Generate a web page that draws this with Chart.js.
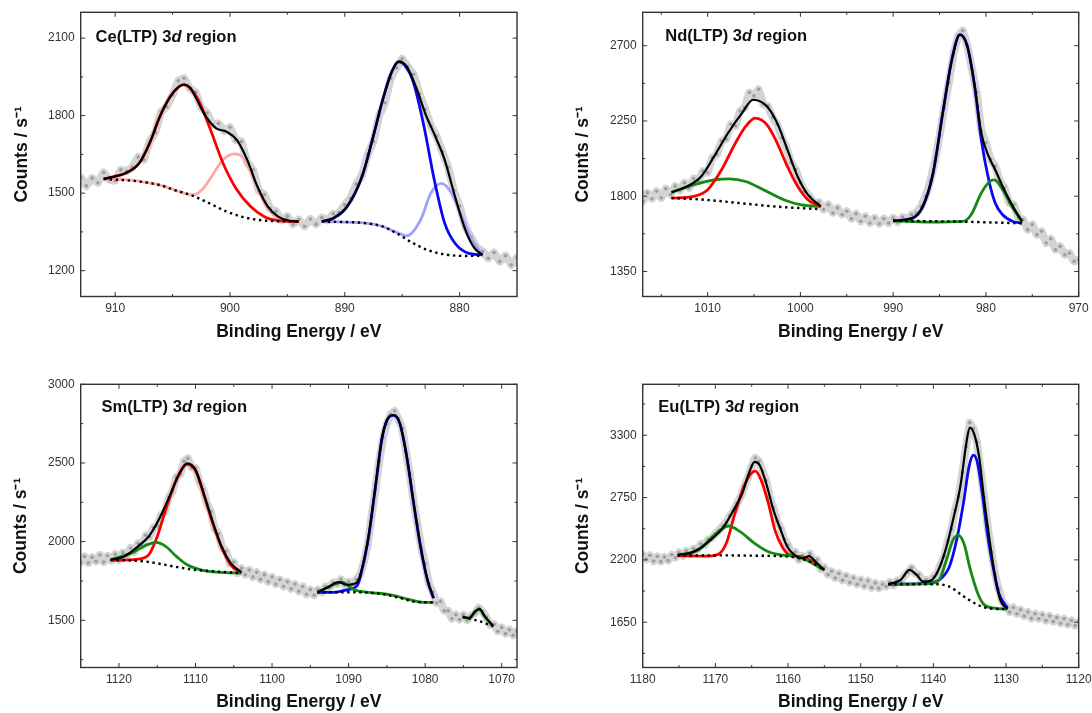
<!DOCTYPE html>
<html><head><meta charset="utf-8">
<script src="https://cdn.jsdelivr.net/npm/chart.js@4/dist/chart.umd.min.js"></script>
<style>
html,body{margin:0;padding:0;background:#fff;}
#wrap{position:relative;width:1092px;height:713px;overflow:hidden;background:#fff;}
canvas{position:absolute;display:block;}
.lbl{position:absolute;font-family:"Liberation Sans",Arial,Helvetica,sans-serif;font-weight:bold;font-size:16.5px;color:#111;white-space:nowrap;line-height:20px;}
</style></head><body>
<div id="wrap">
<canvas id="c1" width="546" height="356" style="left:0;top:0"></canvas>
<canvas id="c2" width="546" height="356" style="left:546px;top:0"></canvas>
<canvas id="c3" width="546" height="357" style="left:0;top:356px"></canvas>
<canvas id="c4" width="546" height="357" style="left:546px;top:356px"></canvas>
<div class="lbl" style="left:95.6px;top:26px">Ce(LTP) 3<i>d</i> region</div>
<div class="lbl" style="left:665.3px;top:25px">Nd(LTP) 3<i>d</i> region</div>
<div class="lbl" style="left:101.5px;top:396px">Sm(LTP) 3<i>d</i> region</div>
<div class="lbl" style="left:658.3px;top:396px">Eu(LTP) 3<i>d</i> region</div>
</div>
<script>
// ---------- tick labels ----------
const ceXTicks = [880, 890, 900, 910];
const ceYTicks = [1200, 1500, 1800, 2100];
const ndXTicks = [970, 980, 990, 1000, 1010];
const ndYTicks = [1350, 1800, 2250, 2700];
const smXTicks = [1070, 1080, 1090, 1100, 1110, 1120];
const smYTicks = [1500, 2000, 2500, 3000];
const euXTicks = [1120, 1130, 1140, 1150, 1160, 1170, 1180];
const euYTicks = [1650, 2200, 2750, 3300];

// ---------- Ce(LTP) 3d ----------
const ceRaw = [[913,1560],[912.5,1528],[912,1558],[911.5,1540],[911,1580],[910.5,1552],[910,1548],[909.5,1590],[909,1585],[908.5,1600],[908,1640],[907.5,1630],[907,1700],[906.5,1735],[906,1815],[905.5,1835],[905,1880],[904.5,1935],[904,1945],[903.5,1905],[903,1890],[902.5,1830],[902,1810],[901.5,1765],[901,1770],[900.5,1740],[900,1755],[899.5,1705],[899,1700],[898.5,1620],[898,1590],[897.5,1510],[897,1495],[896.5,1440],[896,1430],[895.5,1395],[895,1410],[894.5,1380],[894,1398],[893.5,1372],[893,1400],[892.5,1380],[892,1405],[891.5,1395],[891,1420],[890.5,1425],[890,1455],[889.5,1480],[889,1535],[888.5,1570],[888,1650],[887.5,1700],[887,1800],[886.5,1850],[886,1945],[885.5,1985],[885,2020],[884.5,1990],[884,1960],[883.5,1885],[883,1825],[882.5,1760],[882,1720],[881.5,1660],[881,1600],[880.5,1510],[880,1450],[879.5,1370],[879,1330],[878.5,1290],[878,1275],[877.5,1248],[877,1270],[876.5,1235],[876,1258],[875.5,1222],[875,1250]];
const ceTotalA = [[911,1555],[910,1565],[909.1,1577],[907.9,1616],[907,1693],[906.1,1797],[905.2,1874],[904.5,1910],[904,1920],[903.5,1910],[903,1872],[902.1,1797],[901.2,1751],[900.3,1738],[899.4,1706],[898.5,1629],[897.6,1525],[896.7,1448],[895.8,1409],[894.9,1394],[894,1390]];
const ceRedA = [[911,1555],[910,1565],[909.1,1577],[907.9,1616],[907,1693],[906.1,1797],[905.2,1874],[904.5,1910],[904,1920],[903.5,1908],[902.75,1861],[901.8,1758],[900.6,1616],[899.4,1513],[898.2,1448],[897,1409],[895.8,1394],[894,1390]];
const cePinkA = [[911,1555],[909,1552],[907,1540],[906,1530],[905,1515],[904,1500],[903.2,1493],[902.5,1510],[901.8,1551],[900.6,1629],[899.6,1652],[898.8,1635],[897.9,1551],[897,1461],[896.2,1415],[895,1395],[894,1390]];
const ceBgA = [[911,1555],[907.9,1545],[906,1530],[904.9,1513],[903.2,1489],[901.8,1461],[900.3,1429],[898.8,1407],[897,1394],[894,1390]];
const ceTotalB = [[892,1390],[891,1403],[889.8,1448],[888.5,1564],[887.6,1706],[886.7,1861],[885.9,1971],[885.3,2010],[884.6,1990],[883.7,1900],[883,1810],[882.05,1713],[881.3,1629],[880.4,1487],[879.5,1358],[878.7,1287],[878,1261]];
const ceBlueB = [[892,1390],[891,1403],[889.8,1448],[888.5,1564],[887.6,1706],[886.7,1861],[885.9,1971],[885.3,2008],[884.6,1985],[884,1926],[883.1,1758],[882.2,1551],[881.3,1384],[880.4,1306],[879.2,1267],[878,1261]];
const ceLavB = [[892,1390],[888.2,1384],[886.7,1371],[885.5,1348],[884.6,1335],[883.4,1396],[882.5,1500],[881.6,1538],[880.7,1500],[879.8,1409],[878.9,1319],[878,1261]];
const ceBgB = [[892,1390],[888.2,1384],[886.7,1371],[885.5,1345],[884.3,1313],[882.8,1280],[881.3,1263],[879.5,1257],[878,1258]];

// ---------- Nd(LTP) 3d ----------
const ndRaw = [[1017,1770],[1016.5,1820],[1016,1785],[1015.5,1830],[1015,1790],[1014.5,1845],[1014,1810],[1013.5,1860],[1013,1835],[1012.5,1880],[1012,1850],[1011.5,1905],[1011,1890],[1010.5,1950],[1010,1940],[1009.5,2030],[1009,2050],[1008.5,2130],[1008,2140],[1007.5,2230],[1007,2220],[1006.5,2310],[1006,2330],[1005.5,2420],[1005,2400],[1004.5,2440],[1004,2350],[1003.5,2340],[1003,2270],[1002.5,2230],[1002,2150],[1001.5,2090],[1001,2000],[1000.5,1960],[1000,1880],[999.5,1830],[999,1800],[998.5,1750],[998,1765],[997.5,1720],[997,1750],[996.5,1700],[996,1730],[995.5,1690],[995,1710],[994.5,1665],[994,1695],[993.5,1650],[993,1680],[992.5,1640],[992,1670],[991.5,1635],[991,1665],[990.5,1640],[990,1670],[989.5,1645],[989,1675],[988.5,1660],[988,1690],[987.5,1700],[987,1740],[986.5,1800],[986,1890],[985.5,2010],[985,2160],[984.5,2330],[984,2480],[983.5,2650],[983,2760],[982.5,2790],[982,2700],[981.5,2560],[981,2420],[980.5,2190],[980,2120],[979.5,2020],[979,1980],[978.5,1890],[978,1850],[977.5,1760],[977,1750],[976.5,1670],[976,1660],[975.5,1600],[975,1630],[974.5,1570],[974,1590],[973.5,1520],[973,1545],[972.5,1480],[972,1500],[971.5,1450],[971,1460],[970.5,1410],[970,1420]];
const ndTotalA = [[1013.9,1823],[1012.2,1859],[1010.7,1918],[1009.3,2038],[1007.8,2178],[1006.3,2297],[1005.1,2377],[1003.6,2337],[1002.5,2237],[1001.4,2078],[1000.3,1918],[999.2,1809],[997.8,1739]];
const ndRedA = [[1013.9,1789],[1011.5,1799],[1010,1839],[1008.5,1958],[1007,2118],[1005.9,2217],[1004.9,2267],[1003.6,2227],[1002.5,2118],[1001.4,1978],[1000.3,1859],[999.2,1779],[997.8,1739]];
const ndGreenA = [[1013.9,1823],[1011.5,1868],[1009.3,1898],[1007.6,1904],[1005.9,1888],[1004,1839],[1001.8,1779],[999.9,1748],[997.8,1739]];
const ndBgA = [[1013.9,1789],[1010.4,1779],[1006.6,1759],[1002.9,1739],[997.8,1722]];
const ndTotalB = [[990,1653],[987.9,1669],[986.8,1739],[985.7,1938],[984.6,2317],[983.6,2636],[982.8,2766],[982,2696],[981.2,2457],[980.5,2178],[979.7,2038],[979,1958],[978.2,1858],[977.1,1739],[976.1,1649]];
const ndBlueB = [[990,1653],[987.9,1669],[986.8,1739],[985.7,1938],[984.6,2317],[983.6,2636],[982.8,2766],[982,2696],[981.2,2450],[980.5,2138],[979.7,1898],[979,1759],[978.2,1689],[977.1,1649],[976.1,1639]];
const ndGreenB = [[990,1653],[986.1,1645],[982.5,1649],[981.6,1689],[980.5,1819],[979.6,1888],[979.1,1898],[978.2,1839],[977.1,1729],[976.1,1649]];
const ndBgB = [[990,1653],[983,1648],[976.1,1638]];

// ---------- Sm(LTP) 3d ----------
const smRaw = [[1125,1870],[1124.5,1905],[1124,1865],[1123.5,1900],[1123,1875],[1122.5,1915],[1122,1870],[1121.5,1910],[1121,1880],[1120.5,1920],[1120,1885],[1119.5,1930],[1119,1910],[1118.5,1960],[1118,1935],[1117.5,1990],[1117,1975],[1116.5,2040],[1116,2030],[1115.5,2090],[1115,2100],[1114.5,2170],[1114,2190],[1113.5,2280],[1113,2320],[1112.5,2410],[1112,2430],[1111.5,2510],[1111,2530],[1110.5,2470],[1110,2470],[1109.5,2380],[1109,2330],[1108.5,2240],[1108,2190],[1107.5,2080],[1107,2050],[1106.5,1960],[1106,1940],[1105.5,1860],[1105,1870],[1104.5,1800],[1104,1830],[1103.5,1790],[1103,1820],[1102.5,1775],[1102,1805],[1101.5,1760],[1101,1790],[1100.5,1745],[1100,1775],[1099.5,1730],[1099,1760],[1098.5,1715],[1098,1745],[1097.5,1700],[1097,1730],[1096.5,1685],[1096,1715],[1095.5,1665],[1095,1695],[1094.5,1660],[1094,1695],[1093.5,1680],[1093,1715],[1092.5,1705],[1092,1740],[1091.5,1730],[1091,1760],[1090.5,1725],[1090,1745],[1089.5,1730],[1089,1760],[1088.5,1790],[1088,1870],[1087.5,1980],[1087,2160],[1086.5,2330],[1086,2510],[1085.5,2660],[1085,2750],[1084.5,2810],[1084,2830],[1083.5,2780],[1083,2720],[1082.5,2570],[1082,2430],[1081.5,2250],[1081,2110],[1080.5,1960],[1080,1860],[1079.5,1730],[1079,1680],[1078.5,1610],[1078,1620],[1077.5,1560],[1077,1560],[1076.5,1510],[1076,1535],[1075.5,1505],[1075,1535],[1074.5,1500],[1074,1530],[1073.5,1545],[1073,1580],[1072.5,1555],[1072,1520],[1071.5,1470],[1071,1475],[1070.5,1430],[1070,1455],[1069.5,1415],[1069,1440],[1068.5,1405],[1068,1430]];
const smTotalA = [[1121.1,1885],[1119.3,1906],[1117.5,1970],[1116.1,2033],[1114.8,2139],[1113.4,2287],[1112.3,2414],[1111.1,2498],[1110,2456],[1108.8,2287],[1107.7,2118],[1106.6,1970],[1105.4,1864],[1104,1804]];
const smRedA = [[1121.1,1881],[1117.5,1889],[1116.1,1917],[1115,2033],[1113.9,2202],[1112.5,2393],[1111.1,2492],[1110,2452],[1108.8,2280],[1107.7,2110],[1106.6,1965],[1105.4,1852],[1104,1800]];
const smGreenA = [[1121.1,1885],[1118.4,1927],[1116.6,1974],[1115.2,1995],[1113.9,1970],[1112.5,1906],[1111.1,1853],[1109.3,1821],[1106.6,1804],[1104,1800]];
const smBgA = [[1121.1,1885],[1116.6,1874],[1112.9,1843],[1110.2,1821],[1107.5,1811],[1104,1800]];
const smTotalB = [[1094.1,1678],[1092.9,1705],[1091.3,1743],[1090.2,1726],[1089,1737],[1088.4,1800],[1087.4,2033],[1086.5,2350],[1085.6,2668],[1084.7,2795],[1084.1,2805],[1083.3,2752],[1082.4,2541],[1081.5,2245],[1080.6,1970],[1079.7,1758],[1078.9,1642]];
const smBlueB = [[1094.1,1678],[1092,1678],[1090.2,1694],[1088.8,1726],[1088.4,1790],[1087.4,2025],[1086.5,2345],[1085.6,2665],[1084.7,2793],[1084.1,2803],[1083.3,2750],[1082.4,2538],[1081.5,2242],[1080.6,1967],[1079.7,1755],[1078.9,1640]];
const smGreenB = [[1094.1,1678],[1092.4,1716],[1090.9,1743],[1089.3,1694],[1087.4,1678],[1084.7,1663],[1082,1631],[1080.2,1614],[1078.9,1614]];
const smBgB = [[1094.1,1678],[1090.2,1678],[1086.5,1673],[1083.3,1642],[1081.1,1616],[1078.9,1614]];
const smTotalC = [[1075.1,1521],[1074.2,1515],[1073.5,1557],[1072.9,1572],[1072.2,1525],[1071.1,1462]];
const smGreenC = [[1075.1,1521],[1074.2,1513],[1073.5,1552],[1072.9,1568],[1072.2,1522],[1071.1,1462]];
const smBgC = [[1075.1,1521],[1072.9,1494],[1071.1,1462]];

// ---------- Eu(LTP) 3d ----------
const euRaw = [[1180,2250],[1179.5,2205],[1179,2240],[1178.5,2190],[1178,2230],[1177.5,2185],[1177,2225],[1176.5,2195],[1176,2245],[1175.5,2220],[1175,2265],[1174.5,2235],[1174,2280],[1173.5,2250],[1173,2300],[1172.5,2290],[1172,2340],[1171.5,2330],[1171,2380],[1170.5,2390],[1170,2430],[1169.5,2460],[1169,2500],[1168.5,2530],[1168,2590],[1167.5,2630],[1167,2700],[1166.5,2760],[1166,2850],[1165.5,2930],[1165,3030],[1164.5,3100],[1164,3070],[1163.5,2980],[1163,2900],[1162.5,2750],[1162,2660],[1161.5,2540],[1161,2480],[1160.5,2380],[1160,2330],[1159.5,2250],[1159,2270],[1158.5,2200],[1158,2235],[1157.5,2215],[1157,2255],[1156.5,2185],[1156,2200],[1155.5,2120],[1155,2135],[1154.5,2070],[1154,2100],[1153.5,2040],[1153,2080],[1152.5,2020],[1152,2060],[1151.5,2000],[1151,2040],[1150.5,1985],[1150,2025],[1149.5,1970],[1149,2015],[1148.5,1955],[1148,1995],[1147.5,1950],[1147,1985],[1146.5,1965],[1146,2005],[1145.5,1975],[1145,2020],[1144.5,2010],[1144,2060],[1143.5,2090],[1143,2130],[1142.5,2080],[1142,2070],[1141.5,2010],[1141,2025],[1140.5,2010],[1140,2050],[1139.5,2080],[1139,2160],[1138.5,2230],[1138,2370],[1137.5,2470],[1137,2640],[1136.5,2760],[1136,2970],[1135.5,3200],[1135,3410],[1134.5,3360],[1134,3240],[1133.5,2990],[1133,2750],[1132.5,2480],[1132,2270],[1131.5,2070],[1131,1940],[1130.5,1830],[1130,1790],[1129.5,1740],[1129,1780],[1128.5,1725],[1128,1760],[1127.5,1705],[1127,1740],[1126.5,1685],[1126,1725],[1125.5,1680],[1125,1715],[1124.5,1665],[1124,1705],[1123.5,1655],[1123,1690],[1122.5,1640],[1122,1680],[1121.5,1630],[1121,1665],[1120.5,1620],[1120,1655]];
const euTotalA = [[1175.2,2243],[1173.3,2264],[1171.8,2316],[1170.4,2390],[1169,2478],[1167.5,2639],[1166.3,2786],[1165.4,2962],[1164.6,3065],[1163.9,3036],[1163,2874],[1162,2639],[1161,2463],[1160.1,2316],[1159.1,2243],[1157.9,2214],[1157.1,2234],[1156.2,2184],[1155,2111]];
const euRedA = [[1175.2,2237],[1170.9,2234],[1169.4,2258],[1168.5,2346],[1167.3,2610],[1166.1,2845],[1165.1,2962],[1164.5,2983],[1163.7,2904],[1162.7,2698],[1161.8,2463],[1160.8,2316],[1159.8,2243],[1158.4,2230],[1157,2200],[1155,2111]];
const euGreenA = [[1175.2,2243],[1172.3,2287],[1170.4,2405],[1168.2,2499],[1166.6,2449],[1164.6,2346],[1162.7,2272],[1160.8,2243],[1158.4,2228],[1157,2184],[1155,2111]];
const euBgA = [[1175.2,2237],[1169.4,2240],[1164.6,2237],[1159.8,2228],[1157,2184],[1155,2111]];
const euTotalB = [[1146.2,1985],[1144.5,2023],[1143.3,2111],[1142.3,2067],[1141.4,2008],[1140.2,2023],[1139.2,2126],[1138.2,2316],[1137.3,2551],[1136.3,2845],[1135.4,3256],[1135,3368],[1134.4,3315],[1133.7,3109],[1133,2727],[1132.2,2346],[1131.5,2052],[1130.8,1847],[1129.8,1765]];
const euBlueB = [[1146.2,1985],[1140.6,1994],[1139.2,2023],[1137.8,2140],[1136.8,2375],[1135.8,2727],[1135.1,3021],[1134.5,3124],[1133.9,3050],[1133.2,2757],[1132.5,2405],[1131.7,2111],[1131,1906],[1129.8,1773]];
const euGreenB = [[1146.2,1985],[1140.6,1990],[1139.2,2023],[1138.2,2199],[1137.3,2375],[1136.6,2419],[1135.8,2346],[1134.9,2111],[1133.9,1906],[1133,1803],[1131.5,1773],[1129.8,1765]];
const euBgB = [[1146.2,1985],[1139.7,1985],[1137.8,1964],[1135.8,1876],[1133.9,1803],[1132.5,1773],[1129.8,1765]];

// ---------- styling ----------
const FONT = '"Liberation Sans", Arial, Helvetica, sans-serif';
const RED = '#ff0000', PINK = '#ffa8a8', BLUE = '#0808f5', LAV = '#a0a0ff', GREEN = '#138a13', BLACK = '#000000';

const framePlugin = {
  id: 'frame',
  afterDatasetsDraw(chart) {
    const {ctx, chartArea: a, scales: {x, y}} = chart;
    ctx.save();
    ctx.strokeStyle = '#333';
    ctx.lineWidth = 1;
    const xs = x.ticks.map(t => t.value), ys = y.ticks.map(t => t.value);
    const xStep = Math.abs(xs[1] - xs[0]), yStep = Math.abs(ys[1] - ys[0]);
    const minorsOf = (arr, step, lo, hi) => {
      const out = [];
      const first = Math.min(...arr) - step / 2;
      for (let v = first; v <= hi; v += step) if (v > lo && v < hi) out.push(v);
      return out;
    };
    const xMin = minorsOf(xs, xStep, x.min, x.max), yMin = minorsOf(ys, yStep, y.min, y.max);
    ctx.beginPath();
    const vt = (v, len) => { const p = x.getPixelForValue(v); ctx.moveTo(p, a.bottom); ctx.lineTo(p, a.bottom - len); ctx.moveTo(p, a.top); ctx.lineTo(p, a.top + len); };
    const ht = (v, len) => { const p = y.getPixelForValue(v); ctx.moveTo(a.left, p); ctx.lineTo(a.left + len, p); ctx.moveTo(a.right, p); ctx.lineTo(a.right - len, p); };
    xs.forEach(v => vt(v, 4.5)); xMin.forEach(v => vt(v, 2.5));
    ys.forEach(v => ht(v, 4.5)); yMin.forEach(v => ht(v, 2.5));
    ctx.stroke();
    ctx.lineWidth = 1.4;
    ctx.strokeRect(a.left, a.top, a.right - a.left, a.bottom - a.top);
    ctx.restore();
  }
};

function build(p) {
  const ds = [];
  ds.push({data: p.raw, showLine: true, borderColor: '#d4d4d4', borderWidth: 8, borderJoinStyle: 'round', borderCapStyle: 'round', pointRadius: 0, tension: 0, clip: 0, order: 100});
  ds.push({data: p.raw, showLine: false, pointRadius: 1.8, pointBackgroundColor: '#9e9e9e', pointBorderWidth: 0, clip: 0, order: 99});
  p.lines.forEach((l, i) => ds.push({data: l.d, showLine: true, borderColor: l.c, borderWidth: l.c === BLACK ? 2.2 : 2.8, pointRadius: 0, cubicInterpolationMode: 'monotone', clip: 0, order: 60 - i}));
  p.bgs.forEach(b => ds.push({data: b, showLine: true, borderColor: '#000', borderWidth: 2.4, borderDash: [2.4, 3.6], pointRadius: 0, cubicInterpolationMode: 'monotone', clip: 0, order: 5}));
  new Chart(document.getElementById(p.id), {
    type: 'scatter',
    data: {datasets: ds},
    plugins: [framePlugin],
    options: {
      responsive: false, animation: false, events: [],
      layout: {padding: {top: p.padTop, right: p.padRight, left: 0, bottom: 0}},
      plugins: {legend: {display: false}, tooltip: {enabled: false}},
      scales: {
        x: {
          type: 'linear', position: 'bottom', reverse: true, min: p.xMin, max: p.xMax,
          grid: {display: false, drawTicks: false}, border: {display: false},
          afterBuildTicks: s => { s.ticks = p.xTicks.map(v => ({value: v})); },
          ticks: {padding: 4.6, color: '#333', font: {family: FONT, size: 12}, maxRotation: 0, minRotation: 0, autoSkip: false, callback: v => String(v)},
          title: {display: true, text: 'Binding Energy / eV', color: '#111', font: {family: FONT, size: 17.5, weight: 'bold'}, padding: {top: 0, bottom: p.xTitlePad}},
          afterFit: s => { s.height = p.xAxisH; s.paddingLeft = 0; s.paddingRight = 0; }
        },
        y: {
          type: 'linear', position: 'left', min: p.yMin, max: p.yMax,
          grid: {display: false, drawTicks: false}, border: {display: false},
          afterBuildTicks: s => { s.ticks = p.yTicks.map(v => ({value: v})); },
          ticks: {padding: 6, color: '#333', font: {family: FONT, size: 12}, autoSkip: false, callback: v => String(v)},
          title: {display: true, text: 'Counts / s\u207B\u00B9', color: '#111', font: {family: FONT, size: 17.5, weight: 'bold'}, padding: {top: p.yTitlePad, bottom: 0}},
          afterFit: s => { s.width = p.yAxisW; s.paddingTop = 0; s.paddingBottom = 0; }
        }
      }
    }
  });
}

build({id: 'c1', xMin: 875, xMax: 913, yMin: 1100, yMax: 2200, xTicks: ceXTicks, yTicks: ceYTicks, raw: ceRaw,
  lines: [{d: cePinkA, c: PINK}, {d: ceRedA, c: RED}, {d: ceLavB, c: LAV}, {d: ceBlueB, c: BLUE}, {d: ceTotalA, c: BLACK}, {d: ceTotalB, c: BLACK}],
  bgs: [ceBgA, ceBgB], yAxisW: 80.7, xAxisH: 59.5, padTop: 12.3, padRight: 29, yTitlePad: 12.1, xTitlePad: 13.8});
build({id: 'c2', xMin: 970, xMax: 1017, yMin: 1200, yMax: 2900, xTicks: ndXTicks, yTicks: ndYTicks, raw: ndRaw,
  lines: [{d: ndGreenA, c: GREEN}, {d: ndRedA, c: RED}, {d: ndBlueB, c: BLUE}, {d: ndGreenB, c: GREEN}, {d: ndTotalA, c: BLACK}, {d: ndTotalB, c: BLACK}],
  bgs: [ndBgA, ndBgB], yAxisW: 96.7, xAxisH: 59.5, padTop: 12.3, padRight: 13.3, yTitlePad: 27.1, xTitlePad: 13.8});
build({id: 'c3', xMin: 1068, xMax: 1125, yMin: 1200, yMax: 3000, xTicks: smXTicks, yTicks: smYTicks, raw: smRaw,
  lines: [{d: smRedA, c: RED}, {d: smGreenA, c: GREEN}, {d: smBlueB, c: BLUE}, {d: smGreenB, c: GREEN}, {d: smGreenC, c: GREEN}, {d: smTotalA, c: BLACK}, {d: smTotalB, c: BLACK}, {d: smTotalC, c: BLACK}],
  bgs: [smBgA, smBgB, smBgC], yAxisW: 80.7, xAxisH: 45.5, padTop: 28.3, padRight: 29, yTitlePad: 10.4, xTitlePad: 0.8});
build({id: 'c4', xMin: 1120, xMax: 1180, yMin: 1250, yMax: 3750, xTicks: euXTicks, yTicks: euYTicks, raw: euRaw,
  lines: [{d: euRedA, c: RED}, {d: euGreenA, c: GREEN}, {d: euBlueB, c: BLUE}, {d: euGreenB, c: GREEN}, {d: euTotalA, c: BLACK}, {d: euTotalB, c: BLACK}],
  bgs: [euBgA, euBgB], yAxisW: 96.7, xAxisH: 45.5, padTop: 28.3, padRight: 13.3, yTitlePad: 27.1, xTitlePad: 0.8});
</script>
</body></html>
